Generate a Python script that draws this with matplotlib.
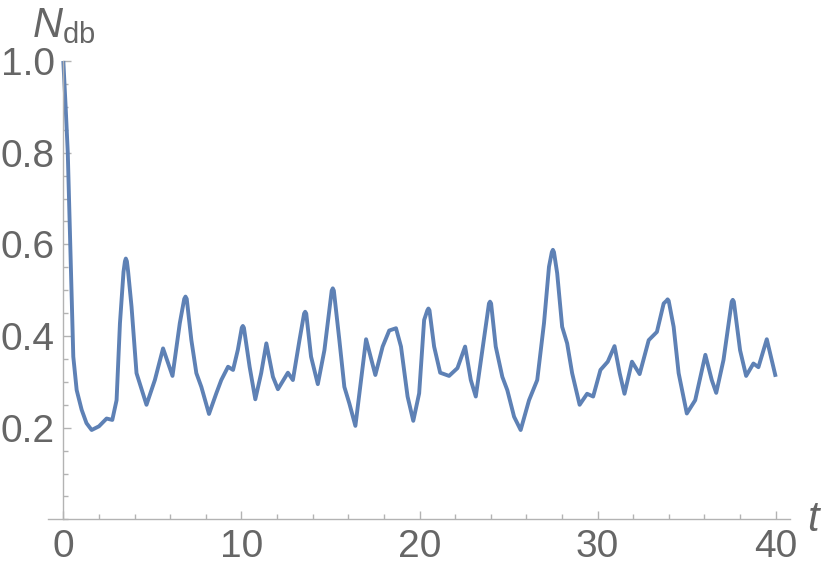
import numpy as np
import matplotlib
matplotlib.use("Agg")
import matplotlib.pyplot as plt
from matplotlib.ticker import MultipleLocator

plt.rcParams["font.family"] = ["Liberation Sans", "DejaVu Sans"]
plt.rcParams["mathtext.fontset"] = "custom"
plt.rcParams["mathtext.rm"] = "Liberation Sans"
plt.rcParams["mathtext.it"] = "Liberation Sans:italic"

# values
t_vals = [0, 0.13, 0.25, 0.32, 0.39, 0.47, 0.56, 0.75, 1.03, 1.3, 1.59, 2.0, 2.43, 2.75, 2.99,
          3.18, 3.38, 3.46, 3.51, 3.57, 3.64, 3.83, 4.11, 4.67, 5.14, 5.6, 6.13, 6.54, 6.79, 6.86,
          6.93, 7.19, 7.47, 7.75, 8.18, 8.59, 8.87, 9.25, 9.53, 9.8, 10.02, 10.08, 10.14, 10.46,
          10.78, 11.11, 11.4, 11.77, 12.05, 12.61, 12.89, 13.26, 13.52, 13.58, 13.64, 13.91,
          14.29, 14.66, 15.07, 15.13, 15.19, 15.5, 15.78, 16.06, 16.4, 16.72, 17.0, 17.52,
          17.93, 18.3, 18.68, 18.96, 19.33, 19.65, 19.98, 20.26, 20.44, 20.5, 20.56, 20.82,
          21.16, 21.66, 22.13, 22.56, 22.88, 23.16, 23.53, 23.9, 23.96, 24.02, 24.28, 24.65,
          24.93, 25.31, 25.68, 26.15, 26.61, 26.99, 27.27, 27.43, 27.49, 27.55, 27.73, 28.01,
          28.29, 28.57, 28.99, 29.41, 29.75, 30.16, 30.57, 30.95, 31.24, 31.51, 31.93, 32.36,
          32.87, 33.33, 33.71, 33.87, 33.93, 33.99, 34.27, 34.55, 35.01, 35.48, 36.05, 36.41,
          36.66, 37.07, 37.53, 37.59, 37.65, 38.0, 38.34, 38.75, 39.03, 39.5, 40.0]
n_db = [1.0, 0.90, 0.80, 0.70, 0.60, 0.48, 0.355, 0.282, 0.239, 0.21, 0.195, 0.203, 0.22, 0.217, 0.26,
        0.428, 0.54, 0.563, 0.569, 0.563, 0.54, 0.464, 0.319, 0.25, 0.304, 0.373, 0.313, 0.428, 0.481, 0.486,
        0.481, 0.391, 0.319, 0.289, 0.23, 0.275, 0.304, 0.333, 0.326, 0.37, 0.418, 0.422, 0.418, 0.333,
        0.262, 0.319, 0.384, 0.311, 0.284, 0.32, 0.304, 0.391, 0.449, 0.453, 0.449, 0.355,
        0.295, 0.369, 0.499, 0.504, 0.499, 0.391, 0.289, 0.253, 0.204, 0.304, 0.393, 0.315,
        0.377, 0.412, 0.417, 0.377, 0.268, 0.215, 0.275, 0.435, 0.456, 0.46, 0.456, 0.377,
        0.32, 0.313, 0.33, 0.377, 0.304, 0.268, 0.369, 0.471, 0.475, 0.471, 0.377, 0.311,
        0.282, 0.224, 0.195, 0.26, 0.304, 0.428, 0.551, 0.583, 0.588, 0.583, 0.537, 0.42,
        0.384, 0.319, 0.25, 0.274, 0.268, 0.326, 0.344, 0.378, 0.319, 0.274, 0.344, 0.317,
        0.391, 0.409, 0.471, 0.477, 0.48, 0.477, 0.42, 0.319, 0.231, 0.26, 0.359, 0.304,
        0.276, 0.348, 0.475, 0.479, 0.475, 0.369, 0.313, 0.34, 0.332, 0.393, 0.311]

x_ticks = [0, 10, 20, 30, 40]
y_ticks = [0.2, 0.4, 0.6, 0.8, 1.0]

axis_grey = "#b3b3b3"
text_grey = "#666666"

fig = plt.figure(figsize=(8.22, 5.78), dpi=100)
ax = fig.add_axes([0.0584, 0.1014, 0.9026, 0.7931])

ax.plot(t_vals, n_db, color="#5E81B5", lw=2.8, clip_on=False,
        solid_joinstyle="round", solid_capstyle="butt")

ax.set_xlim(-0.86, 40.8)
ax.set_ylim(0, 1.0)

for s in ["top", "right"]:
    ax.spines[s].set_visible(False)
ax.spines["left"].set_position(("data", 0))
for s in ["left", "bottom"]:
    ax.spines[s].set_color(axis_grey)
    ax.spines[s].set_linewidth(1.0)

ax.set_xticks(x_ticks)
ax.set_yticks(y_ticks)
ax.set_yticklabels(["%.1f" % v for v in y_ticks])
ax.xaxis.set_minor_locator(MultipleLocator(2))
ax.yaxis.set_minor_locator(MultipleLocator(0.05))

ax.tick_params(which="both", direction="in", color=axis_grey, width=1.0,
               labelsize=28, labelcolor=text_grey)
ax.tick_params(which="major", length=6)
ax.tick_params(which="minor", length=3.5)
ax.tick_params(axis="x", which="major", pad=7)
ax.tick_params(axis="y", which="major", pad=6)

fig.text(32 / 822, 1 - 37 / 578, r"$N_{\mathrm{db}}$", fontsize=30,
         color=text_grey, va="baseline", ha="left")
fig.text(807 / 822, 1 - 531 / 578, r"$t$", fontsize=30,
         color=text_grey, va="baseline", ha="left")

fig.savefig("out.png", dpi=100)
